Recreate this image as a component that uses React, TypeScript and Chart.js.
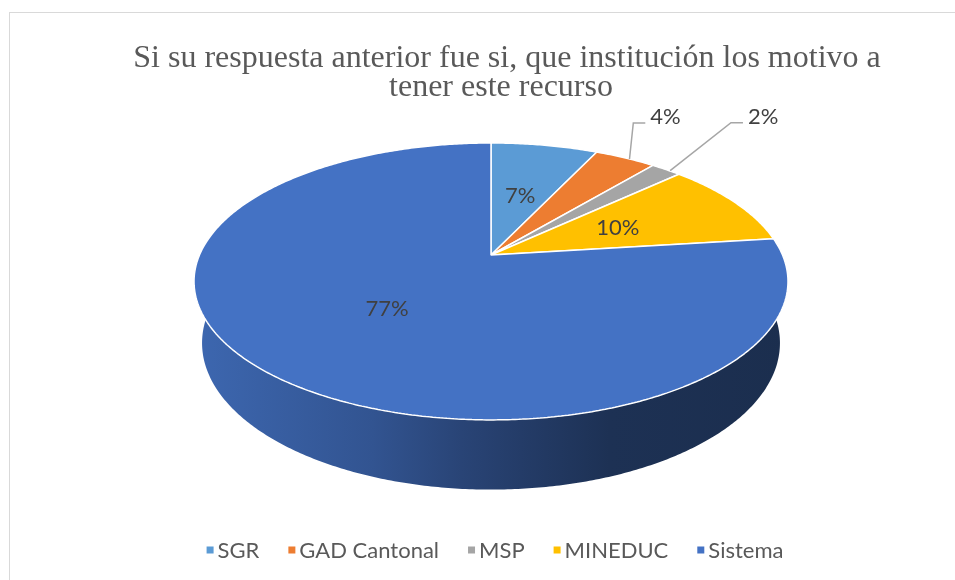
import React, { useEffect, useRef } from "react";
import { Chart, registerables } from "chart.js";

Chart.register(...registerables);

// ---------- data ----------
const categories = ["SGR", "GAD Cantonal", "MSP", "MINEDUC", "Sistema"];
const values = [7, 4, 2, 10, 77];
const sliceColors = ["#5b9bd5", "#ed7d31", "#a5a5a5", "#ffc000", "#4472c4"];
const titleLines = [
  "Si su respuesta anterior fue si, que institución los motivo a",
  "tener este recurso",
];

// ---------- style / layout ----------
const TAU = Math.PI * 2;
const VIEW = { cx: 491, cy: 255, ax: 291.5, by: 133.4, persp: 0.191, depth: 60, shrink: 0.973 };
const LABEL_FONT = "22px Lato";
const LABEL_COLOR = "#404040";
const LEGEND_COLOR = "#595959";
const INSIDE_FRACTION = 0.5;
const OUTSIDE_OFFSETS: Record<number, [number, number]> = { 1: [40, -41], 2: [97, -53] };

function project(u: number, v: number, bottom = false) {
  const w = 1 - VIEW.persp * v;
  const s = bottom ? VIEW.shrink : 1;
  return {
    x: VIEW.cx + (VIEW.ax * u * s) / w,
    y: VIEW.cy + (VIEW.by * v * s + (bottom ? VIEW.depth : 0)) / w,
  };
}

function shade(hex: string, f: number) {
  const n = parseInt(hex.slice(1), 16);
  const r = Math.round(((n >> 16) & 255) * f);
  const g = Math.round(((n >> 8) & 255) * f);
  const b = Math.round((n & 255) * f);
  return `rgb(${r},${g},${b})`;
}

const perspectivePlugin = {
  id: "perspective3d",
  beforeDraw(chart: any) {
    const ctx = chart.ctx;
    ctx.save();
    ctx.fillStyle = "#ffffff";
    ctx.fillRect(0, 0, chart.width, chart.height);
    ctx.strokeStyle = "#d9d9d9";
    ctx.lineWidth = 1;
    ctx.strokeRect(9.5, 12.5, chart.width + 20, chart.height + 20);
    ctx.restore();
  },
  beforeDatasetsDraw(chart: any) {
    const ctx = chart.ctx;
    const meta = chart.getDatasetMeta(0);
    const els = meta.data;
    if (!els.length) return;
    // ---- sides ----
    const items: any[] = [];
    els.forEach((el: any, i: number) => {
      for (const k of [-1, 0, 1]) {
        const lo = Math.max(el.startAngle, -0.35 + k * TAU);
        const hi = Math.min(el.endAngle, Math.PI + 0.35 + k * TAU);
        if (hi > lo) items.push({ lo, hi, color: sliceColors[i] });
      }
    });
    items.sort((a, b) => Math.sin((a.lo + a.hi) / 2) - Math.sin((b.lo + b.hi) / 2));
    const left = VIEW.cx - 297;
    const right = VIEW.cx + 297;
    ctx.save();
    for (const it of items) {
      const n = Math.max(4, Math.ceil((it.hi - it.lo) / 0.01));
      ctx.beginPath();
      for (let j = 0; j <= n; j++) {
        const a = it.lo + ((it.hi - it.lo) * j) / n;
        const p = project(Math.cos(a), Math.sin(a));
        if (j === 0) ctx.moveTo(p.x, p.y);
        else ctx.lineTo(p.x, p.y);
      }
      for (let j = n; j >= 0; j--) {
        const a = it.lo + ((it.hi - it.lo) * j) / n;
        const p = project(Math.cos(a), Math.sin(a), true);
        ctx.lineTo(p.x, p.y);
      }
      ctx.closePath();
      const g = ctx.createLinearGradient(left, 0, right, 0);
      g.addColorStop(0, shade(it.color, 0.9));
      g.addColorStop(0.3, shade(it.color, 0.74));
      g.addColorStop(0.45, shade(it.color, 0.6));
      g.addColorStop(0.55, shade(it.color, 0.53));
      g.addColorStop(0.7, shade(it.color, 0.43));
      g.addColorStop(1, shade(it.color, 0.4));
      ctx.fillStyle = g;
      ctx.fill();
    }
    ctx.restore();

    // ---- patch the context so Chart.js arcs are drawn in perspective ----
    const cx = els[0].x;
    const cy = els[0].y;
    const R = els[0].outerRadius || 1;
    const proto = Object.getPrototypeOf(ctx);
    const oMove = proto.moveTo;
    const oLine = proto.lineTo;
    const map = (x: number, y: number) => project((x - cx) / R, (y - cy) / R);
    ctx.moveTo = function (x: number, y: number) {
      const p = map(x, y);
      oMove.call(ctx, p.x, p.y);
    };
    ctx.lineTo = function (x: number, y: number) {
      const p = map(x, y);
      oLine.call(ctx, p.x, p.y);
    };
    ctx.arc = function (x: number, y: number, r: number, s: number, e: number, ccw?: boolean) {
      if (![x, y, r, s, e].every((q) => Number.isFinite(q))) return;
      if (r <= 0) {
        const p = map(x, y);
        oLine.call(ctx, p.x, p.y);
        return;
      }
      let d = e - s;
      if (!ccw) {
        if (d >= TAU) d = TAU;
        else {
          d = d % TAU;
          if (d < 0) d += TAU;
        }
      } else {
        if (-d >= TAU) d = -TAU;
        else {
          d = d % TAU;
          if (d > 0) d -= TAU;
        }
      }
      const n = Math.max(2, Math.ceil(Math.abs(d) / 0.01));
      for (let j = 0; j <= n; j++) {
        const a = s + (d * j) / n;
        const p = map(x + r * Math.cos(a), y + r * Math.sin(a));
        oLine.call(ctx, p.x, p.y);
      }
    };
  },
  afterDatasetsDraw(chart: any) {
    const ctx = chart.ctx;
    delete ctx.moveTo;
    delete ctx.lineTo;
    delete ctx.arc;
    const meta = chart.getDatasetMeta(0);
    const total = values.reduce((a, b) => a + b, 0);
    ctx.save();
    ctx.font = LABEL_FONT;
    ctx.fillStyle = LABEL_COLOR;
    ctx.textAlign = "center";
    ctx.textBaseline = "middle";
    meta.data.forEach((el: any, i: number) => {
      const mid = (el.startAngle + el.endAngle) / 2;
      const text = Math.round((values[i] / total) * 100) + "%";
      const off = OUTSIDE_OFFSETS[i];
      if (!off) {
        const p = project(INSIDE_FRACTION * Math.cos(mid), INSIDE_FRACTION * Math.sin(mid));
        ctx.fillText(text, p.x, p.y);
      } else {
        const rim = project(Math.cos(mid), Math.sin(mid));
        const lx = rim.x + off[0];
        const ly = rim.y + off[1];
        const w = ctx.measureText(text).width;
        const textLeft = lx - w / 2;
        ctx.save();
        ctx.strokeStyle = "#a6a6a6";
        ctx.lineWidth = 1.5;
        ctx.beginPath();
        ctx.moveTo(rim.x + 4, rim.y + 1);
        ctx.lineTo(textLeft - 17, ly + 6);
        ctx.lineTo(textLeft - 5, ly + 6);
        ctx.stroke();
        ctx.restore();
        ctx.fillText(text, lx, ly);
      }
    });
    ctx.restore();
  },
  afterDraw(chart: any) {
    const ctx = chart.ctx;
    ctx.save();
    // title
    ctx.font = "32px 'Liberation Serif'";
    ctx.fillStyle = "#595959";
    ctx.textAlign = "center";
    ctx.textBaseline = "alphabetic";
    ctx.fillText(titleLines[0], 507, 67);
    ctx.fillText(titleLines[1], 501, 96);
    // legend
    ctx.font = LABEL_FONT;
    ctx.textAlign = "left";
    ctx.textBaseline = "middle";
    const box = 7;
    const gapBoxText = 4;
    const gapItems = 29;
    const widths = categories.map((c) => ctx.measureText(c).width);
    const total =
      widths.reduce((a, b) => a + b, 0) + categories.length * (box + gapBoxText) + (categories.length - 1) * gapItems;
    let x = 495 - total / 2;
    const y = 550;
    categories.forEach((c, i) => {
      ctx.fillStyle = sliceColors[i];
      ctx.fillRect(x, y - box / 2, box, box);
      ctx.fillStyle = LEGEND_COLOR;
      ctx.fillText(c, x + box + gapBoxText, y + 1);
      x += box + gapBoxText + widths[i] + gapItems;
    });
    ctx.restore();
  },
};

export default function App() {
  const ref = useRef<HTMLCanvasElement | null>(null);
  useEffect(() => {
    if (!ref.current) return;
    const chart = new Chart(ref.current, {
      type: "pie",
      data: {
        labels: categories,
        datasets: [
          {
            data: values,
            backgroundColor: sliceColors,
            borderColor: "#ffffff",
            borderWidth: 1.5,
          },
        ],
      },
      options: {
        responsive: false,
        animation: false,
        events: [],
        layout: { padding: 0 },
        plugins: {
          legend: { display: false },
          title: { display: false },
          tooltip: { enabled: false },
        },
      },
      plugins: [perspectivePlugin],
    });
    return () => chart.destroy();
  }, []);
  return (
    <div style={{ position: "absolute", left: 0, top: 0, width: 955, height: 580, overflow: "hidden" }}>
      <canvas ref={ref} width={955} height={580} style={{ display: "block" }} />
    </div>
  );
}
